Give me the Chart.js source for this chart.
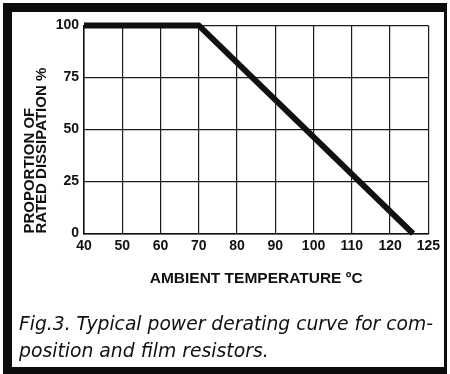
<!DOCTYPE html>
<html>
<head>
<meta charset="utf-8">
<script src="https://cdn.jsdelivr.net/npm/chart.js@4/dist/chart.umd.min.js"></script>
<style>
  html, body { margin: 0; padding: 0; background: #fff; }
  body { width: 450px; height: 374px; position: relative; overflow: hidden; }
  .frame {
    position: absolute; left: 3px; top: 3px; width: 444px; height: 371px;
    box-sizing: border-box; background: #fff;
    border-style: solid; border-color: #0c0c0c;
    border-width: 9px 3px 7px 9px;
  }
  .plot { position: absolute; left: 12px; top: 12px; width: 432px; height: 355px; }
</style>
</head>
<body>
<div class="frame"></div>
<div class="plot"><canvas id="derating"></canvas></div>
<script>
// grid temperatures, equally spaced on the axis (last cell is only 5 degrees)
const tempTicks = [40, 50, 60, 70, 80, 90, 100, 110, 120, 125];
const dissipationTicks = [0, 25, 50, 75, 100];

// derating curve: flat to 70 degC, then straight down to zero
const curveTemps = [40, 70, 123];
const curvePower = [100, 100, 0];

const caption = [
  "Fig.3. Typical power derating curve for com-",
  "position and film resistors.",
];

// linear scale that puts every grid temperature one cell apart
class GridStepScale extends Chart.LinearScale {
  buildTicks() {
    return tempTicks.map((v) => ({ value: v }));
  }
  getPixelForValue(value) {
    const t = tempTicks;
    let i = 0;
    while (i < t.length - 2 && value > t[i + 1]) i++;
    const pos = i + (value - t[i]) / (t[i + 1] - t[i]);
    return this.getPixelForDecimal(pos / (t.length - 1));
  }
  getValueForPixel(pixel) {
    const t = tempTicks;
    const pos = this.getDecimalForPixel(pixel) * (t.length - 1);
    const i = Math.max(0, Math.min(t.length - 2, Math.floor(pos)));
    return t[i] + (pos - i) * (t[i + 1] - t[i]);
  }
}
GridStepScale.id = "gridstep";
GridStepScale.defaults = {};
Chart.register(GridStepScale);

const ink = "#111";
const family = "'Liberation Sans', Arial, sans-serif";
const axisFont = { family: family, size: 14, weight: "bold" };

const data = {
  datasets: [
    {
      data: curveTemps.map((t, i) => ({ x: t, y: curvePower[i] })),
      borderColor: ink,
      borderWidth: 6,
      pointRadius: 0,
      tension: 0,
      clip: false,
    },
  ],
};

const config = {
  type: "line",
  data: data,
  options: {
    responsive: true,
    maintainAspectRatio: false,
    animation: false,
    layout: { padding: { left: 7, right: 11, top: 13, bottom: 0 } },
    plugins: {
      legend: { display: false },
      tooltip: { enabled: false },
      title: {
        display: true,
        position: "bottom",
        align: "start",
        text: caption,
        color: ink,
        font: { family: "'DejaVu Sans', sans-serif", size: 18.8, style: "italic", weight: "normal", lineHeight: 1.42 },
        padding: { top: 19, bottom: 2 },
      },
    },
    scales: {
      x: {
        type: "gridstep",
        min: 40,
        max: 125,
        afterFit: (scale) => { scale.height = 59; },
        grid: { color: "#1c1c1c", lineWidth: 1.2, drawTicks: false },
        border: { color: ink, width: 1.5 },
        ticks: { color: ink, font: axisFont, padding: 4, maxRotation: 0, autoSkip: false, callback: (v) => String(v) },
        title: {
          display: true,
          text: "AMBIENT TEMPERATURE ºC",
          color: ink,
          font: { family: family, size: 15.5, weight: "bold", lineHeight: 1.2 },
          padding: { top: 0, bottom: 5 },
        },
      },
      y: {
        min: 0,
        max: 100,
        afterFit: (scale) => { scale.width = 65; },
        afterBuildTicks: (scale) => { scale.ticks = dissipationTicks.map((v) => ({ value: v })); },
        grid: { color: "#1c1c1c", lineWidth: 1.2, drawTicks: false },
        border: { color: ink, width: 1.5 },
        ticks: { color: ink, font: axisFont, padding: 5 },
        title: {
          display: true,
          align: "start",
          text: ["PROPORTION OF", "RATED DISSIPATION %"],
          color: ink,
          font: { family: family, size: 15, weight: "bold", lineHeight: 0.8 },
          padding: { top: 5, bottom: 0 },
        },
      },
    },
  },
};

const ctx = document.getElementById("derating").getContext("2d");
new Chart(ctx, config);
</script>
</body>
</html>
